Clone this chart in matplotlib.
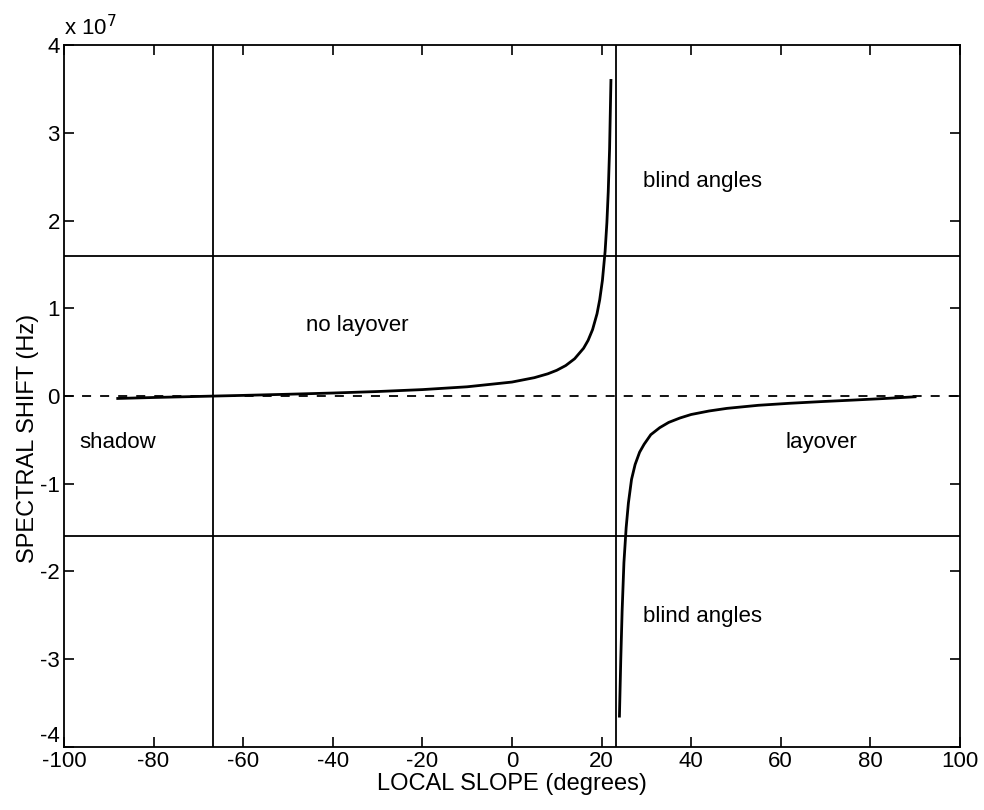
import numpy as np
import matplotlib.pyplot as plt
import matplotlib.ticker as mticker

plt.rcParams['font.family'] = ['Liberation Sans', 'DejaVu Sans']

# spectral shift, units of 1e7 Hz
slope_left = [-88, -80, -70, -66.8, -60, -50, -40, -30, -20, -10, 0, 5, 8, 10,
              12, 14, 16, 17, 18, 19, 19.6, 20.2, 20.8, 21.2, 21.5, 21.8, 22.1]
shift_left = [-0.027, -0.016, -0.004, 0.0, 0.008, 0.021, 0.035, 0.052, 0.074, 0.106,
              0.16, 0.21, 0.254, 0.294, 0.348, 0.426, 0.546, 0.635, 0.758, 0.94,
              1.10, 1.32, 1.65, 1.98, 2.33, 2.82, 3.6]

slope_right = [24.0, 24.3, 24.6, 25.0, 25.5, 26.0, 26.7, 27.5, 28.5, 29.5, 31, 33,
               35, 37.5, 40, 44, 48, 55, 62, 69, 76, 83, 90]
shift_right = [-3.65, -3.0, -2.45, -1.9, -1.5, -1.22, -0.95, -0.78, -0.64, -0.55,
               -0.44, -0.36, -0.30, -0.25, -0.21, -0.17, -0.14, -0.105, -0.082,
               -0.063, -0.046, -0.028, -0.008]

bandwidth = 1.6        # +/- limits (1e7 Hz)
shadow_slope = -66.8
blind_slope = 23.2

labels = ['blind angles', 'no layover', 'shadow', 'layover', 'blind angles']
label_x = [42.5, -34.5, -88, 69, 42.5]
label_y = [2.45, 0.81, -0.53, -0.53, -2.51]

scale = 1e7

fig = plt.figure(figsize=(9.84, 8.1), dpi=100)
ax = fig.add_axes([0.065, 0.078, 0.9105, 0.866])

lw = 1.3
ax.axhline(0, color='black', ls=(0, (5, 5)), lw=lw)
ax.axhline(bandwidth * scale, color='black', lw=lw)
ax.axhline(-bandwidth * scale, color='black', lw=lw)
ax.axvline(shadow_slope, color='black', lw=lw)
ax.axvline(blind_slope, color='black', lw=lw)

ax.plot(slope_left, np.array(shift_left) * scale, color='black', lw=2)
ax.plot(slope_right, np.array(shift_right) * scale, color='black', lw=2)

for t, x, y in zip(labels, label_x, label_y):
    ax.text(x, y * scale, t, ha='center', va='center', fontsize=16)

ax.set_xlim(-100, 100)
ax.set_ylim(-4e7, 4e7)
ax.set_xticks(np.arange(-100, 101, 20))
ax.set_yticks(np.arange(-4, 5, 1) * scale)
ax.yaxis.set_major_formatter(mticker.FuncFormatter(lambda v, p: f'{v / scale:g}'))
ax.xaxis.set_major_formatter(mticker.FuncFormatter(lambda v, p: f'{v:g}'))
ax.tick_params(direction='in', top=True, right=True, length=7, width=1.2,
               labelsize=16, pad=3)
for s in ax.spines.values():
    s.set_linewidth(1.3)

# lowest y label sits a bit higher, as in the original
ax.yaxis.get_major_ticks()[0].label1.set_va('bottom')

ax.text(0.0, 1.008, 'x 10$^7$', transform=ax.transAxes, fontsize=16,
        ha='left', va='bottom')
ax.set_xlabel('LOCAL SLOPE (degrees)', fontsize=17, labelpad=1)
ax.set_ylabel('SPECTRAL SHIFT (Hz)', fontsize=17, labelpad=0)
ax.yaxis.set_label_coords(-0.028, 0.44)

fig.savefig('out.png', dpi=100)
